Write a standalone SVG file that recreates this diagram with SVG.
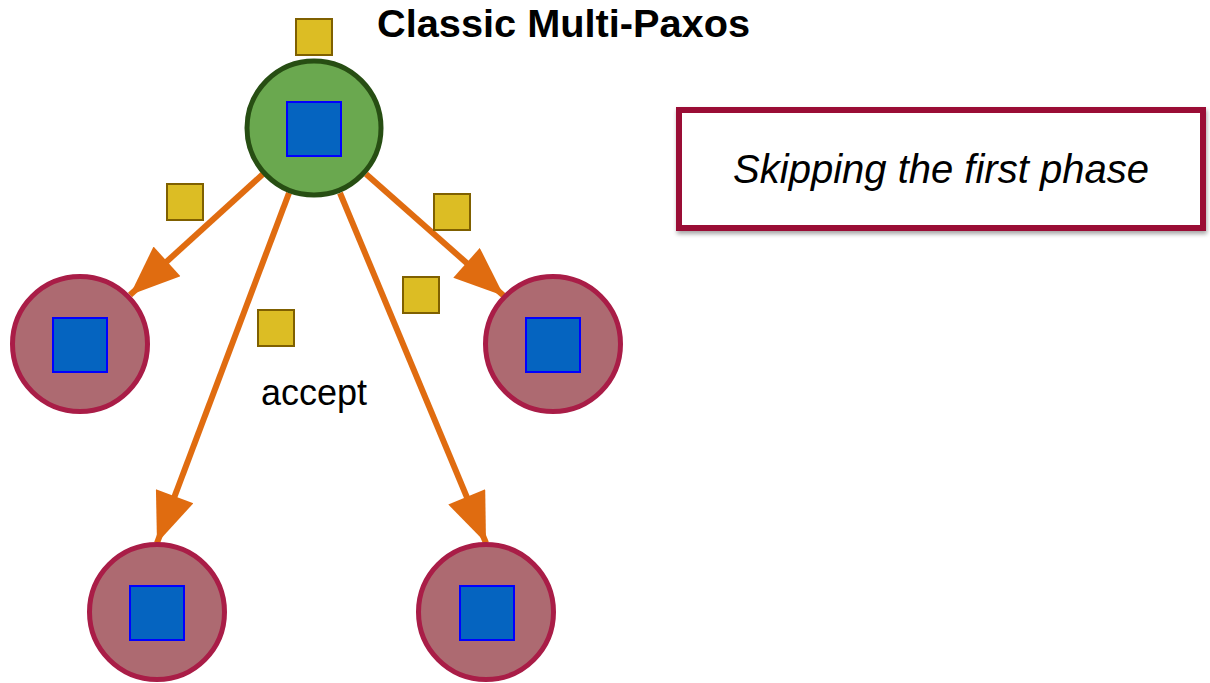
<svg xmlns="http://www.w3.org/2000/svg" width="1210" height="683" viewBox="0 0 1210 683">
<defs>
<style>
.leader{fill:#6aa84f;stroke:#274e13;stroke-width:5}
.follower{fill:#ad6a71;stroke:#a91d47;stroke-width:5}
.val{fill:#0564c0;stroke:#0000ff;stroke-width:2}
.msg{fill:#dcbd24;stroke:#7f6000;stroke-width:2}
.conn{stroke:#e06c10;stroke-width:6;fill:none;marker-end:url(#ah)}
.t{font-family:"Liberation Sans",Arial,sans-serif;fill:#000}
</style>
<marker id="ah" markerUnits="userSpaceOnUse" markerWidth="52" markerHeight="40" viewBox="0 0 50 40" refX="50" refY="20" orient="auto">
<path d="M0,0 L50,20 L0,40 z" fill="#e06c10"/>
</marker>
<filter id="sh" x="-5%" y="-10%" width="110%" height="130%">
<feDropShadow dx="1" dy="3" stdDeviation="2" flood-color="#000" flood-opacity="0.35"/>
</filter>
</defs>
<g id="connectors">
<line class="conn" x1="263" y1="174" x2="130" y2="295"/>
<line class="conn" x1="366" y1="174" x2="504" y2="296"/>
<line class="conn" x1="289" y1="193" x2="157" y2="543"/>
<line class="conn" x1="340" y1="193" x2="486" y2="543"/>
</g>
<g id="leader">
<circle class="leader" cx="314" cy="128" r="67"/>
<rect class="val" x="287" y="102" width="54" height="54"/>
</g>
<g id="follower-left">
<circle class="follower" cx="80" cy="344" r="67.5"/>
<rect class="val" x="53" y="318" width="54" height="54"/>
</g>
<g id="follower-right">
<circle class="follower" cx="553" cy="344" r="67.5"/>
<rect class="val" x="526" y="318" width="54" height="54"/>
</g>
<g id="follower-bottom-left">
<circle class="follower" cx="157" cy="612" r="67.5"/>
<rect class="val" x="130" y="586" width="54" height="54"/>
</g>
<g id="follower-bottom-right">
<circle class="follower" cx="486" cy="612" r="67.5"/>
<rect class="val" x="460" y="586" width="54" height="54"/>
</g>
<g id="messages">
<rect class="msg" x="296" y="19" width="36" height="36"/>
<rect class="msg" x="167" y="184" width="36" height="36"/>
<rect class="msg" x="258" y="310" width="36" height="36"/>
<rect class="msg" x="434" y="194" width="36" height="36"/>
<rect class="msg" x="403" y="277" width="36" height="36"/>
</g>
<g id="title">
<text class="t" x="377" y="37" font-size="38" font-weight="bold" textLength="373" lengthAdjust="spacingAndGlyphs">Classic Multi-Paxos</text>
</g>
<g id="label-accept">
<text class="t" x="261" y="405" font-size="36">accept</text>
</g>
<g id="note">
<rect x="679" y="110" width="524" height="118" fill="#fff" stroke="#9a0f36" stroke-width="6" filter="url(#sh)"/>
<text class="t" x="941" y="183" font-size="40" font-style="italic" text-anchor="middle">Skipping the first phase</text>
</g>
</svg>
